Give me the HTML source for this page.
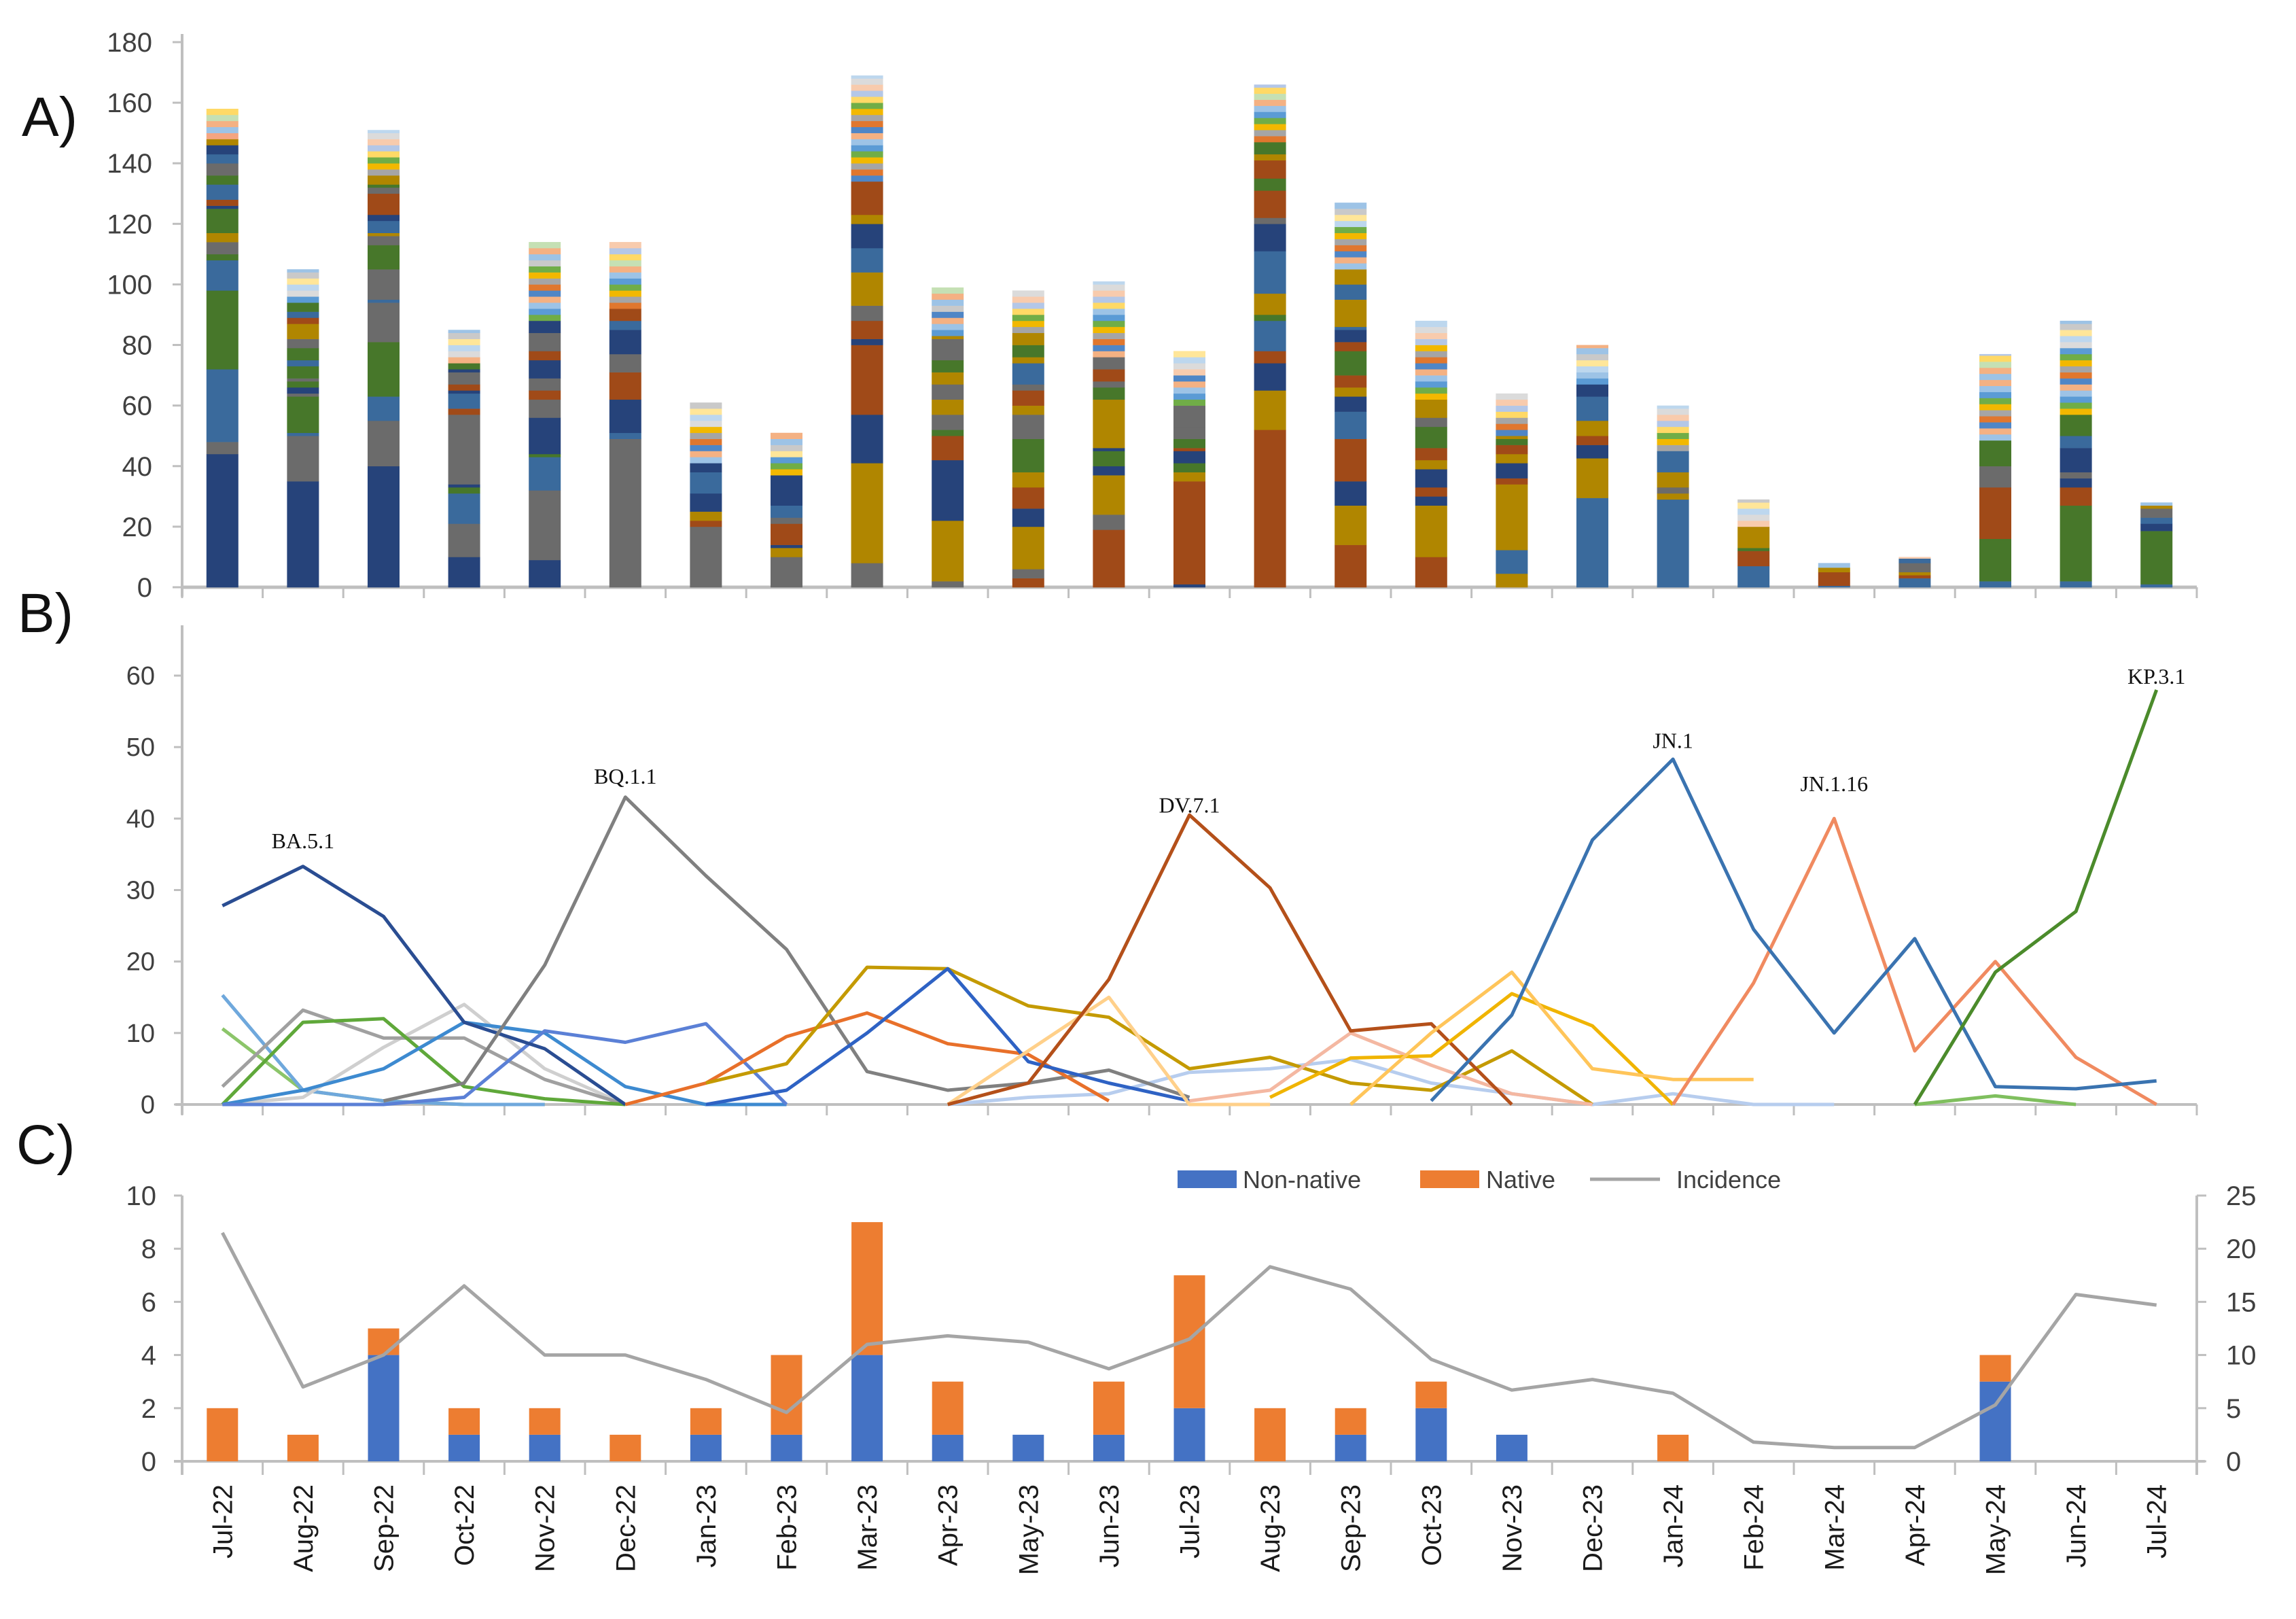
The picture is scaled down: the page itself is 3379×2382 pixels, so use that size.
<!DOCTYPE html>
<html><head><meta charset="utf-8"><style>
html,body{margin:0;padding:0;background:#fff}
svg{display:block;font-family:"Liberation Sans",sans-serif}
</style></head><body>
<svg id="fig" width="3379" height="2382" viewBox="0 0 3379 2382" xmlns="http://www.w3.org/2000/svg">
<rect width="3379" height="2382" fill="#fff"/>
<text x="32" y="200" font-size="82" fill="#111">A)</text>
<text x="26" y="930" font-size="82" fill="#111">B)</text>
<text x="24" y="1712" font-size="82" fill="#111">C)</text>
<g id="gA"></g>
<g id="gB"></g>
<g id="gC"></g>
</svg>
<script>
const months=["Jul-22","Aug-22","Sep-22","Oct-22","Nov-22","Dec-22","Jan-23","Feb-23","Mar-23","Apr-23","May-23","Jun-23","Jul-23","Aug-23","Sep-23","Oct-23","Nov-23","Dec-23","Jan-24","Feb-24","Mar-24","Apr-24","May-24","Jun-24","Jul-24"];
// Panel A: bar totals and major segments (cumulative tops, bottom-up) with lineage colour codes
const aTotals=[158,105,151,85,114,114,61,51,169,99,98,101,78,166,127,88,64,80,60,29,8,10,77,88,28];
const aTops=[
[44,48,72,98,108,110,114,117,125,126,128,133,136,140,143,146,148,150],
[35,50,51,63,64,66,68,69,73,75,79,82,87,89,91,94],
[40,55,63,81,94,95,105,113,116,117,121,123,130,132,133,136],
[10,21,31,33,34,57,59,64,65,67,71,72,74],
[9,32,43,44,56,62,65,69,75,78,84,88],
[49,51,62,71,77,85,88,92],
[20,22,25,31,38,41],
[10,13,14,21,23,27,37],
[8,41,57,80,82,88,93,104,112,120,123,134],
[2,22,42,50,52,57,62,67,71,75,82,83],
[3,6,20,26,33,38,49,57,60,65,67,74,76,80,84],
[19,24,37,40,45,46,62,66,68,72,76],
[1,35,38,41,45,46,49,53,60],
[52,65,74,78,88,90,97,111,120,122,131,135,141,143,147],
[14,27,35,49,58,63,66,70,78,81,85,86,95,100,105],
[10,27,30,33,39,42,46,53,56,62],
[4.5,12.3,34,36,41,44,47,49,50],
[29.5,42.6,47,50,55,63,67],
[29,31,33,38,45],
[7,12,13,20],
[0.5,5,6.5],
[3,4,5,8,9.5],
[2,16,33,40,48.5],
[2,27,33,36,38,46,50,57],
[1,18.6,21,23,26,27]];
const aCodes=[
"NGSDSDGODNBSDGSNOP","NGSDGNDGDSDGOBSD","NGSDGSGDGOSNBGDO","NGSDNGBSNBGND","NGSDNGBGNBGN","GSNBGNSB","GBONSN","GONBGSN",
"GONBNBGOSNOB","GONBDGOGODGO","BGONBODGOBGSODO","BGONDNODGBG","NBODNBDGG","BONBSDOSNGBDBOD","BONBSNOBDBNSOSO","BONBNOBDGO",
"OSOBNOBDO","SONBOSN","SOGOS","SBDO","SBO","SBOGS","SDBGD","SDBNGNSD","SDNSGO"];
const aColorMap={N:"#26437a",G:"#6b6b6b",S:"#3a6a9c",D:"#47772a",B:"#a04a18",O:"#b08600",P:"#f4a582"};
const minorColors=["#4f86c6","#e0772e","#a5a5a5","#f2b800","#70ad47","#5b9bd5","#9dc3e6","#f4b183","#c5e0b4","#ffd966","#b4c7e7","#f8cbad","#dbdbdb","#bdd7ee","#ffe699","#c9c9c9"];
// Panel B: lineage proportions (%)
const N=null;
const bBA51=[27.8,33.3,26.3,11.5,7.8,0,N,N,N,N,N,N,N,N,N,N,N,N,N,N,N,N,N,N,N];
const bBQ11=[N,N,0.5,3,19.5,43,32,21.7,4.6,2,3,4.8,1,N,N,N,N,N,N,N,N,N,N,N,N];
const bGray2=[2.5,13.2,9.3,9.3,3.5,0,N,N,N,N,N,N,N,N,N,N,N,N,N,N,N,N,N,N,N];
const bLtGray=[0,1,8,14,5,0,N,N,N,N,N,N,N,N,N,N,N,N,N,N,N,N,N,N,N];
const bGreen=[0,11.5,12,2.5,0.8,0,N,N,N,N,N,N,N,N,N,N,N,N,N,N,N,N,N,N,N];
const bLtGreen=[10.6,2,0.5,0,0,N,N,N,N,N,N,N,N,N,N,N,N,N,N,N,N,N,N,N,N];
const bLtBlue=[15.3,2,0.5,0,0,N,N,N,N,N,N,N,N,N,N,N,N,N,N,N,N,N,N,N,N];
const bBlue=[0,2,5,11.5,10,2.5,0,0,N,N,N,N,N,N,N,N,N,N,N,N,N,N,N,N,N];
const bPerBlue=[0,0,0,1,10.3,8.7,11.3,0,N,N,N,N,N,N,N,N,N,N,N,N,N,N,N,N,N];
const bOrange=[N,N,N,N,N,0,3,9.5,12.8,8.5,7,0.5,N,N,N,N,N,N,N,N,N,N,N,N,N];
const bGold=[N,N,N,N,N,N,3,5.7,19.2,19,13.8,12.2,5,6.6,3,2,7.5,0,N,N,N,N,N,N,N];
const bBlue2=[N,N,N,N,N,N,0,2,10,19,6,3,0.5,N,N,N,N,N,N,N,N,N,N,N,N];
const bDV71=[N,N,N,N,N,N,N,N,N,0,3,17.5,40.5,30.3,10.3,11.3,0,N,N,N,N,N,N,N,N];
const bLtOrange=[N,N,N,N,N,N,N,N,N,0,7.5,15,0,0,N,N,N,N,N,N,N,N,N,N,N];
const bLtBlue2=[N,N,N,N,N,N,N,N,N,0,1,1.5,4.5,5,6.3,3,1.5,0,1.5,0,0,N,N,N,N];
const bPink=[N,N,N,N,N,N,N,N,N,N,N,N,0.5,2,10,5.5,1.5,0,N,N,N,N,N,N,N];
const bYellow=[N,N,N,N,N,N,N,N,N,N,N,N,N,1,6.5,6.8,15.5,11,0,N,N,N,N,N,N];
const bLtYellow=[N,N,N,N,N,N,N,N,N,N,N,N,N,N,0,10,18.5,5,3.5,3.5,N,N,N,N,N];
const bJN1=[N,N,N,N,N,N,N,N,N,N,N,N,N,N,N,0.5,12.5,37,48.3,24.5,10,23.2,2.5,2.2,3.3];
const bJN116=[N,N,N,N,N,N,N,N,N,N,N,N,N,N,N,N,N,N,0,17,40,7.5,20,6.6,0];
const bKP31=[N,N,N,N,N,N,N,N,N,N,N,N,N,N,N,N,N,N,N,N,N,0,18.5,27,58];
const bLtGreen2=[N,N,N,N,N,N,N,N,N,N,N,N,N,N,N,N,N,N,N,N,N,0,1.2,0,N];
const bLabels=["BA.5.1","BQ.1.1","DV.7.1","JN.1","JN.1.16","KP.3.1"];
const bLabelIdx=[1,5,12,18,20,24];
const bLabelVal=[37,46,42,51,45,60];
// Panel C
const cNonNative=[0,0,4,1,1,0,1,1,4,1,1,1,2,0,1,2,1,0,0,0,0,0,3,0,0];
const cNative=[2,1,1,1,1,1,1,3,5,2,0,2,5,2,1,1,0,0,1,0,0,0,1,0,0];
const cIncidence=[21.5,7,10,16.5,10,10,7.7,4.6,11,11.8,11.2,8.7,11.5,18.3,16.2,9.6,6.7,7.7,6.4,1.8,1.3,1.3,5.3,15.7,14.7];
const aTicks=[0,20,40,60,80,100,120,140,160,180];
const bTicks=[0,10,20,30,40,50,60];
const cTicksL=[0,2,4,6,8,10];
const cTicksR=[0,5,10,15,20,25];

const NS="http://www.w3.org/2000/svg";
function mk(tag,attrs,parent,txt){const e=document.createElementNS(NS,tag);for(const k in attrs)e.setAttribute(k,attrs[k]);if(txt!==undefined)e.textContent=txt;parent.appendChild(e);return e;}
const xL=268,xR=3233,cw=(xR-xL)/25;
const xc=i=>xL+cw*(i+0.5);
const yA=v=>864-(v/180)*(864-62);
const yB=v=>1625-(v/60)*(1625-994);
const yC=v=>2150-(v/10)*(2150-1759);
const yCR=v=>2150-(v/25)*(2150-1759);
const AX="#bfbfbf",TX="#404040";

// ---- Panel A
const gA=document.getElementById('gA');
mk('line',{x1:xL,y1:50,x2:xL,y2:878,stroke:AX,'stroke-width':4},gA);
mk('line',{x1:xL,y1:864,x2:xR,y2:864,stroke:AX,'stroke-width':5},gA);
aTicks.forEach(t=>{const y=yA(t);
 mk('line',{x1:xL-14,y1:y,x2:xL,y2:y,stroke:AX,'stroke-width':3},gA);
 const tx=mk('text',{x:224,y:y+14,'font-size':40,'text-anchor':'end',fill:TX},gA,String(t));
 
 });
for(let i=0;i<=25;i++){mk('line',{x1:xL+cw*i,y1:864,x2:xL+cw*i,y2:880,stroke:AX,'stroke-width':3},gA);}
const bw=47;
months.forEach((m,i)=>{
 let cum=0;
 aTops[i].forEach((top,j)=>{const col=aColorMap[aCodes[i][j]]||"#7f7f7f";
  if(top>cum){const r=mk('rect',{x:xc(i)-bw/2,y:yA(top),width:bw,height:yA(cum)-yA(top)+0.3,fill:col},gA);
  
  
  cum=top;}});
 let rem=aTotals[i]-cum,k=i*5;
 while(rem>0.01){const v=Math.min(rem,2.0);
  const col=rem<10?minorColors[6+(k%10)]:minorColors[k%8];
  const r=mk('rect',{x:xc(i)-bw/2,y:yA(cum+v),width:bw,height:yA(cum)-yA(cum+v)+0.3,fill:col},gA);
  
  
  cum+=v;rem-=v;k++;}
});

// ---- Panel B
const gB=document.getElementById('gB');
mk('line',{x1:xL,y1:920,x2:xL,y2:1640,stroke:AX,'stroke-width':4},gB);
mk('line',{x1:xL-10,y1:1625,x2:xR,y2:1625,stroke:AX,'stroke-width':4},gB);
bTicks.forEach(t=>{const y=yB(t);
 mk('line',{x1:xL-12,y1:y,x2:xL,y2:y,stroke:AX,'stroke-width':3},gB);
 const tx=mk('text',{x:228,y:y+13,'font-size':38,'text-anchor':'end',fill:TX},gB,String(t));
 
 });
for(let i=0;i<=25;i++){mk('line',{x1:xL+cw*i,y1:1625,x2:xL+cw*i,y2:1641,stroke:AX,'stroke-width':3},gB);}
const bSeries=[[bLtBlue2,"#b7cdee"],[bLtGreen,"#8cc56a"],[bLtBlue,"#6fa8dc"],[bLtGray,"#cfcfcf"],[bGray2,"#a0a0a0"],[bGreen,"#5fa83a"],[bBlue,"#3d8ad0"],[bPerBlue,"#5b80d6"],[bBA51,"#2a4d92"],[bBQ11,"#808080"],[bOrange,"#e8702a"],[bGold,"#c49a00"],[bBlue2,"#2e62c4"],[bLtOrange,"#ffd08a"],[bPink,"#f4b8a2"],[bDV71,"#b4501a"],[bYellow,"#f0b400"],[bLtYellow,"#ffc55a"],[bLtGreen2,"#7fbf5e"],[bJN116,"#f08a60"],[bJN1,"#3a73b0"],[bKP31,"#4b8b2b"]];
bSeries.forEach(([arr,col])=>{
 let d="";arr.forEach((v,i)=>{if(v===null)return;d+=(d?"L":"M")+xc(i).toFixed(1)+","+yB(v).toFixed(1);});
 const p=mk('path',{d:d,fill:'none',stroke:col,'stroke-width':5,'stroke-linejoin':'round'},gB);
 
 
});
bLabels.forEach((s,j)=>{
 const t=mk('text',{x:xc(bLabelIdx[j]),y:yB(bLabelVal[j])+12,'font-size':32,'text-anchor':'middle',fill:'#111','font-family':'"Liberation Serif",serif'},gB,s);
 
 
});

// ---- Panel C
const gC=document.getElementById('gC');
mk('line',{x1:xL,y1:1759,x2:xL,y2:2170,stroke:AX,'stroke-width':4},gC);
mk('line',{x1:xR,y1:1759,x2:xR,y2:2170,stroke:AX,'stroke-width':4},gC);
mk('line',{x1:xL-12,y1:2150,x2:xR+12,y2:2150,stroke:AX,'stroke-width':4},gC);
for(let i=0;i<=25;i++){mk('line',{x1:xL+cw*i,y1:2150,x2:xL+cw*i,y2:2170,stroke:AX,'stroke-width':3},gC);}
cTicksL.forEach(t=>{const y=yC(t);
 mk('line',{x1:xL-12,y1:y,x2:xL,y2:y,stroke:AX,'stroke-width':3},gC);
 const tx=mk('text',{x:230,y:y+14,'font-size':40,'text-anchor':'end',fill:TX},gC,String(t));
 
 });
cTicksR.forEach(t=>{const y=yCR(t);
 mk('line',{x1:xR,y1:y,x2:xR+14,y2:y,stroke:AX,'stroke-width':3},gC);
 const tx=mk('text',{x:3276,y:y+14,'font-size':40,'text-anchor':'start',fill:TX},gC,String(t));
 
 });
months.forEach((m,i)=>{
 const x=xc(i)-23;
 if(cNonNative[i]>0){const r=mk('rect',{x:x,y:yC(cNonNative[i]),width:46,height:yC(0)-yC(cNonNative[i]),fill:'#4472c4'},gC);
  
  }
 if(cNative[i]>0){const top=cNonNative[i]+cNative[i];const r=mk('rect',{x:x,y:yC(top),width:46,height:yC(cNonNative[i])-yC(top),fill:'#ed7d31'},gC);
  
  }
 const t=mk('text',{x:0,y:0,'font-size':40,'text-anchor':'end',fill:'#1a1a1a',transform:`translate(${xc(i)+14},2184) rotate(-90)`},gC,m);
 
 
});
let dI="";cIncidence.forEach((v,i)=>{dI+=(i?"L":"M")+xc(i).toFixed(1)+","+yCR(v).toFixed(1);});
const il=mk('path',{d:dI,fill:'none',stroke:'#a5a5a5','stroke-width':5,'stroke-linejoin':'round'},gC);


const lg=mk('g',{},gC);


mk('rect',{x:1733,y:1722,width:87,height:26,fill:'#4472c4'},lg);
mk('text',{x:1829,y:1748,'font-size':36,fill:TX},lg,'Non-native');
mk('rect',{x:2090,y:1722,width:87,height:26,fill:'#ed7d31'},lg);
mk('text',{x:2187,y:1748,'font-size':36,fill:TX},lg,'Native');
mk('line',{x1:2340,y1:1735,x2:2443,y2:1735,stroke:'#a5a5a5','stroke-width':5},lg);
mk('text',{x:2467,y:1748,'font-size':36,fill:TX},lg,'Incidence');
</script>
</body></html>
